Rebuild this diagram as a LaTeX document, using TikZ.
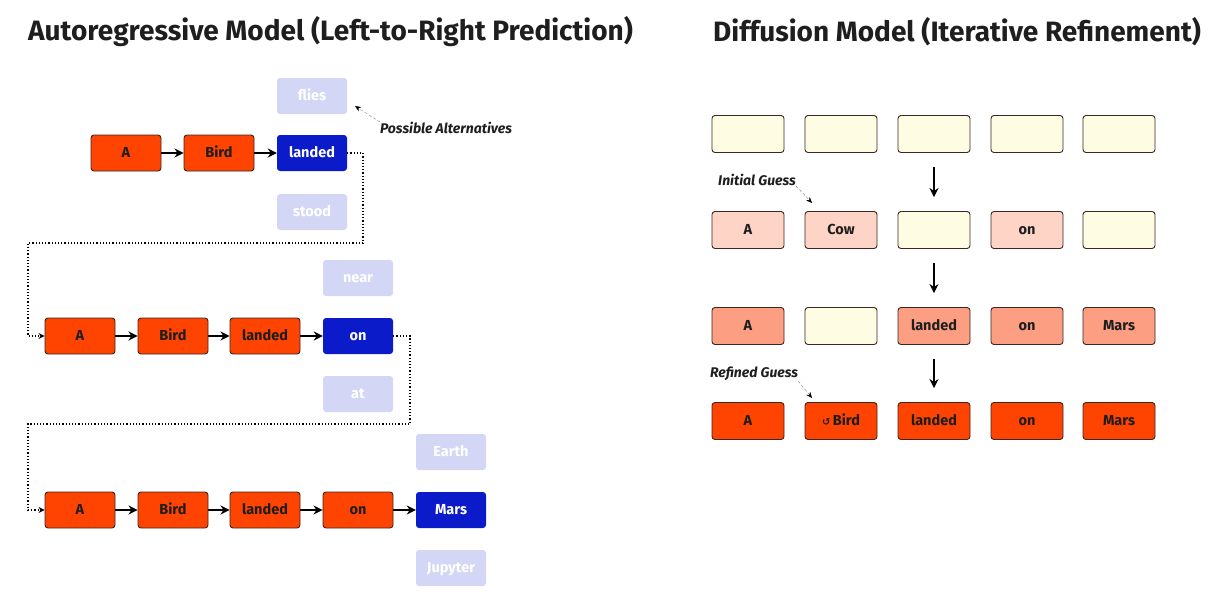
\documentclass[tikz,border=0pt]{standalone}
\usepackage{fontspec}
\setmainfont{Fira Sans}
\newfontfamily\symfont{DejaVu Sans}
\usepackage{xcolor}
\usetikzlibrary{arrows.meta}
\definecolor{tokred}{HTML}{FF4300}
\definecolor{tokedge}{HTML}{3B2622}
\definecolor{pickblue}{HTML}{0B1BC9}
\definecolor{altblue}{HTML}{D3D7F5}
\definecolor{blankyel}{HTML}{FEFCE2}
\definecolor{palepink}{HTML}{FDD4C6}
\definecolor{salmon}{HTML}{FB9E82}
\definecolor{ink}{HTML}{1E1E1E}

\begin{document}
\begin{tikzpicture}[x=1pt,y=-1pt,
    every node/.style={inner sep=0pt, text=ink},
    box/.style={rounded corners=3pt, minimum width=70pt, minimum height=36pt,
      text height=10pt, text depth=0.5pt,
      font=\bfseries\fontsize{14.5}{16}\selectfont},
    tok/.style={box, fill=tokred, draw=tokedge, line width=.9pt},
    pick/.style={box, fill=pickblue, text=white},
    alt/.style={box, fill=altblue, text=white},
    cell/.style={box, minimum width=72pt, minimum height=37pt, draw=tokedge, line width=.9pt},
    blank/.style={cell, fill=blankyel},
    pale/.style={cell, fill=palepink},
    mid/.style={cell, fill=salmon},
    full/.style={cell, fill=tokred},
    title/.style={anchor=west, font=\bfseries\fontsize{28}{32}\selectfont},
    note/.style={font=\bfseries\itshape\fontsize{14}{16}\selectfont},
    arr/.style={-{Stealth[length=9pt,width=9pt]}, line width=1.6pt},
    bigarr/.style={-{Stealth[length=9pt,width=9pt]}, line width=1.8pt, shorten <=14pt, shorten >=14pt},
    link/.style={dotted, line width=1.2pt, -{Stealth[length=6pt,width=6pt]}},
    hint/.style={densely dashed, line width=.4pt, gray, -{Stealth[length=6pt,width=5pt,black]}}]
    \useasboundingbox (0,0) rectangle (1212,605);

    % autoregressive side
    \node[title] (arTitle) at (28,32) {Autoregressive Model (Left-to-Right Prediction)};
    \node[tok] (r1a) at (126,153) {A};
    \node[tok] (r1b) at (219,153) {Bird};
    \node[pick] (r1c) at (312,153) {landed};
    \node[alt] (r1up) at (312,96) {flies};
    \node[alt] (r1dn) at (312,212) {stood};
    \node[note] (altNote) at (446,128) {Possible Alternatives};
    \coordinate (altTip) at (355,106);
    \draw[hint] (altNote.north west) -- (altTip);

    \node[tok] (r2a) at (80,336) {A};
    \node[tok] (r2b) at (173,336) {Bird};
    \node[tok] (r2c) at (265,336) {landed};
    \node[pick] (r2d) at (358,336) {on};
    \node[alt] (r2up) at (358,278) {near};
    \node[alt] (r2dn) at (358,394) {at};

    \node[tok] (r3a) at (80,510) {A};
    \node[tok] (r3b) at (173,510) {Bird};
    \node[tok] (r3c) at (265,510) {landed};
    \node[tok] (r3d) at (358,510) {on};
    \node[pick] (r3e) at (451,510) {Mars};
    \node[alt] (r3up) at (451,452) {Earth};
    \node[alt] (r3dn) at (451,568) {Jupyter};

    \foreach \from/\to in
    {r1a/r1b,r1b/r1c,r2a/r2b,r2b/r2c,r2c/r2d,r3a/r3b,r3b/r3c,r3c/r3d,r3d/r3e}
    \draw[arr] (\from) -- (\to);

    \coordinate (bend1) at (363,243);
    \coordinate (turn1) at (28,243);
    \coordinate (bend2) at (410,424);
    \coordinate (turn2) at (28,424);
    \draw[link] (r1c.east) -| (bend1) -- (turn1) |- (r2a.west);
    \draw[link] (r2d.east) -| (bend2) -- (turn2) |- (r3a.west);

    % diffusion side
    \node[title] (dfTitle) at (713,32) {Diffusion Model (Iterative Refinement)};
    \foreach \i/\x in {1/748,2/841,3/934,4/1027,5/1119}
    \node[blank] (d1\i) at (\x,134) {};
    \foreach \i/\x/\s/\t in {1/748/pale/A,2/841/pale/Cow,3/934/blank/{},4/1027/pale/on,5/1119/blank/{}}
    \node[\s] (d2\i) at (\x,230) {\t};
    \foreach \i/\x/\s/\t in {1/748/mid/A,2/841/blank/{},3/934/mid/landed,4/1027/mid/on,5/1119/mid/Mars}
    \node[\s] (d3\i) at (\x,326) {\t};
    \node[full] (d41) at (748,421) {A};
    \node[full] (d42) at (841,421) {{\symfont\fontsize{10}{12}\selectfont ↺}\,Bird};
    \node[full] (d43) at (934,421) {landed};
    \node[full] (d44) at (1027,421) {on};
    \node[full] (d45) at (1119,421) {Mars};

    \foreach \from/\to in
    {d13/d23,d23/d33,d33/d43}
    \draw[bigarr] (\from) -- (\to);

    \node[note] (initNote) at (757,180) {Initial Guess};
    \coordinate (initTip) at (812,203);
    \draw[hint] (initNote.south east) -- (initTip);
    \node[note] (refNote) at (754,374) {Refined Guess};
    \coordinate (refTip) at (812,398);
    \draw[hint] (refNote.south east) -- (refTip);
\end{tikzpicture}
\end{document}
